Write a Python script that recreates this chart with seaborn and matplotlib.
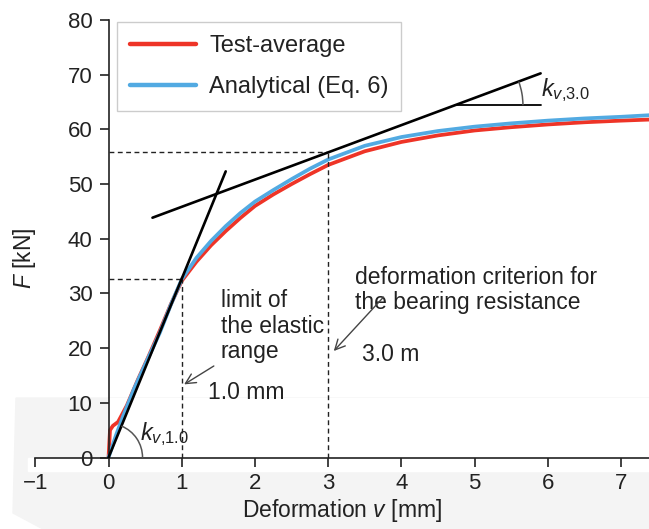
import numpy as np
import pandas as pd
import matplotlib
matplotlib.use("Agg")
import matplotlib.pyplot as plt
import seaborn as sns
from matplotlib.patches import Arc, Polygon, Rectangle
from matplotlib.transforms import ScaledTranslation

# load-deformation curves
v_test = [0, 0.02, 0.06, 0.13, 0.25, 0.4, 0.55, 0.7, 0.85, 1.0, 1.2, 1.4, 1.6,
          1.8, 2.0, 2.25, 2.5, 2.75, 3.0, 3.5, 4.0, 4.5, 5.0, 5.5, 6.0, 6.5, 7.0, 7.4]
F_test = [0, 5.0, 5.8, 6.5, 9.5, 14.2, 18.6, 23.2, 28.0, 32.3, 35.8, 38.8, 41.4,
          43.8, 46.0, 48.1, 50.0, 51.8, 53.5, 56.0, 57.7, 58.9, 59.8, 60.4, 60.9, 61.3, 61.6, 61.8]

v_ana = [0, 0.1, 0.2, 0.35, 0.5, 0.7, 0.85, 1.0, 1.2, 1.4, 1.6, 1.8, 2.0, 2.25,
         2.5, 2.75, 3.0, 3.5, 4.0, 4.5, 5.0, 5.5, 6.0, 6.5, 7.0, 7.4]
F_ana = [0, 4.0, 7.6, 12.6, 17.0, 22.8, 27.9, 32.6, 36.5, 39.6, 42.3, 44.7, 46.8, 48.9,
         50.9, 52.8, 54.5, 57.0, 58.6, 59.7, 60.5, 61.1, 61.6, 62.0, 62.3, 62.6]

# secant / tangent stiffness lines
k_10 = 32.7      # kN/mm, through the origin
F_10 = 32.7      # kN at v = 1.0 mm
k_30 = 4.98      # kN/mm, tangent at v = 3.0 mm
F_30 = 55.8      # kN at v = 3.0 mm

sns.set_theme(style="ticks")
plt.rcParams["font.family"] = ["Liberation Sans", "DejaVu Sans"]
plt.rcParams["mathtext.fontset"] = "custom"
plt.rcParams["mathtext.rm"] = "Liberation Sans"
plt.rcParams["mathtext.it"] = "Liberation Sans:italic"

W, H = 649, 529
fig = plt.figure(figsize=(W / 100, H / 100), dpi=100)

# light grey scan background in the lower part of the picture
def px(x, y):
    return (x / W, 1 - y / H)

fig.patches.append(Polygon([px(16, 398), px(649, 398), px(649, 529), px(43, 529), px(13, 513)],
                           closed=True, transform=fig.transFigure, color="#f4f4f4", zorder=-3))
fig.patches.append(Rectangle(px(108, 458), (W - 108) / W, 60 / H, transform=fig.transFigure,
                             color="white", zorder=-2))
fig.patches.append(Rectangle(px(28, 471), (W - 28) / W, 13 / H, transform=fig.transFigure,
                             color="white", zorder=-2))

ax = fig.add_axes([35.3 / W, 71.5 / H, 613.7 / W, 437.5 / H])
ax.set_facecolor("none")

df = pd.concat([
    pd.DataFrame({"v": v_test, "F": F_test, "series": "Test-average"}),
    pd.DataFrame({"v": v_ana, "F": F_ana, "series": "Analytical (Eq. 6)"}),
])
sns.lineplot(data=df, x="v", y="F", hue="series", estimator=None, sort=False,
             palette={"Test-average": "#ee3427", "Analytical (Eq. 6)": "#52aae2"},
             lw=2.7, ax=ax)

ax.set_xlim(-1, 7.38)
ax.set_ylim(0, 80)
ax.set_xticks(range(-1, 8))
ax.set_yticks(range(0, 81, 10))

sns.despine(ax=ax)
ax.spines["left"].set_position(("data", 0))
for s in ["left", "bottom"]:
    ax.spines[s].set_linewidth(1.2)
    ax.spines[s].set_color("#222222")
ax.tick_params(direction="out", length=6.5, width=1.2, color="#222222",
               labelsize=16, labelcolor="#222222")
ax.tick_params(axis="x", pad=5)
ax.tick_params(axis="y", pad=5)

ax.set_xlabel("Deformation $v$ [mm]", fontsize=16.5, color="#222222", labelpad=2)
ax.set_ylabel("$F$ [kN]", fontsize=16.5, color="#222222")
ax.yaxis.set_label_coords(0.004, 0.456)

# tangent lines
va = np.array([0, 1.6])
ax.plot(va, k_10 * va, color="black", lw=1.9, zorder=4)
vb = np.array([0.6, 5.9])
ax.plot(vb, F_30 + k_30 * (vb - 3), color="black", lw=1.9, zorder=4)
v_h = 4.73
F_h = F_30 + k_30 * (v_h - 3)
ax.plot([v_h, 5.9], [F_h, F_h], color="black", lw=1.3, zorder=4)

# dashed guide lines
dash = dict(color="#222222", lw=1.0, ls=(0, (3.5, 2.5)), zorder=3)
ax.plot([0, 1], [F_10, F_10], **dash)
ax.plot([1, 1], [0, F_10], **dash)
ax.plot([0, 3], [F_30, F_30], **dash)
ax.plot([3, 3], [0, F_30], **dash)

# angle arcs, drawn as circles in screen space
def screen_angle(slope):
    p0 = ax.transData.transform((0, 0))
    p1 = ax.transData.transform((1, slope))
    return np.degrees(np.arctan2(p1[1] - p0[1], p1[0] - p0[0]))

for (x0, y0), r, slope in [((0, 0), 0.34, k_10), ((v_h, F_h), 0.68, k_30)]:
    tr = fig.dpi_scale_trans + ScaledTranslation(x0, y0, ax.transData)
    ax.add_patch(Arc((0, 0), 2 * r, 2 * r, theta1=0, theta2=screen_angle(slope),
                     transform=tr, color="#555555", lw=1.1, zorder=4))

ax.text(0.43, 3.2, r"$k_{v{,}1.0}$", fontsize=17, color="#222222")
ax.text(5.9, 66.0, r"$k_{v{,}3.0}$", fontsize=17, color="#222222")

# annotations
arrow = dict(arrowstyle="->", color="#444444", lw=1.0, mutation_scale=18)
ax.text(1.53, 30.8, "limit of\nthe elastic\nrange", fontsize=16.5, va="top",
        linespacing=1.15, color="#222222")
ax.annotate("", xy=(1.0, 13.1), xytext=(1.47, 17.0), arrowprops=arrow)
ax.text(1.36, 11.8, "1.0 mm", fontsize=16.5, va="center", color="#222222")

ax.text(3.37, 35.0, "deformation criterion for\nthe bearing resistance", fontsize=16.5,
        va="top", linespacing=1.1, color="#222222")
ax.annotate("", xy=(3.05, 19.1), xytext=(3.78, 29.7), arrowprops=arrow)
ax.text(3.46, 18.8, "3.0 m", fontsize=16.5, va="center", color="#222222")

leg = ax.legend(loc="upper left", bbox_to_anchor=(0.133, 0.995), borderaxespad=0,
                fontsize=17, frameon=True, fancybox=False, edgecolor="#cccccc",
                framealpha=1, handlelength=2.8, handletextpad=0.55, labelspacing=0.8,
                borderpad=0.55, title=None)
for line in leg.get_lines():
    line.set_linewidth(3.2)
for t in leg.get_texts():
    t.set_color("#222222")

fig.savefig("out.png", dpi=100)
